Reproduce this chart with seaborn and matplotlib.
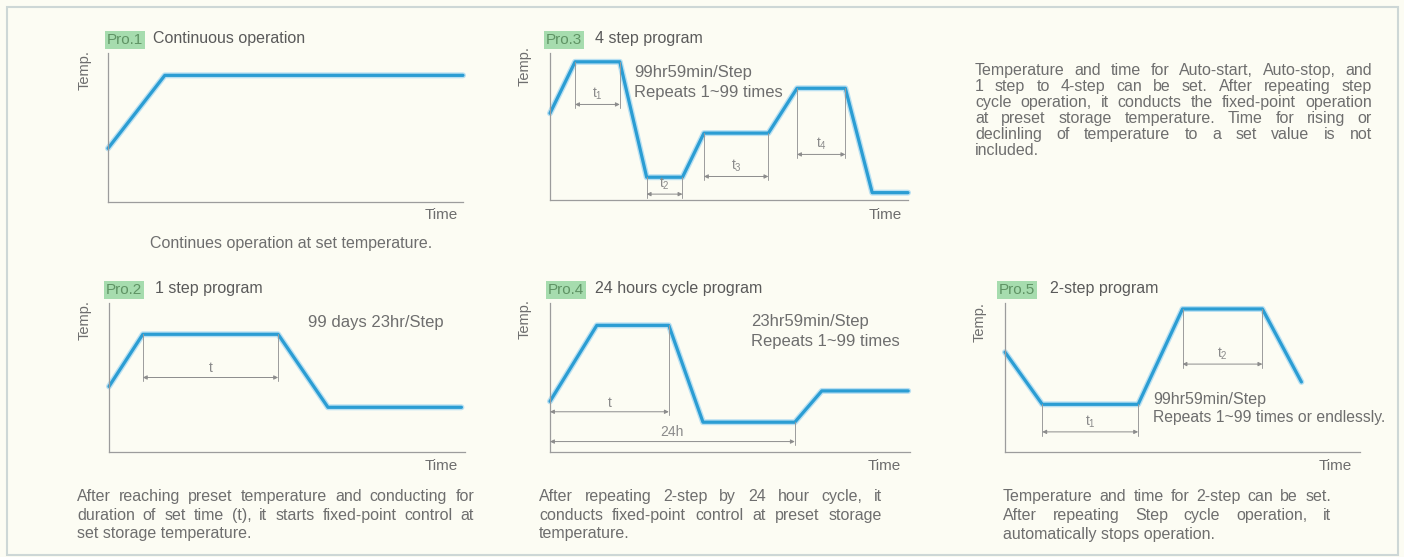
import matplotlib
matplotlib.use('Agg')
import matplotlib.pyplot as plt
import matplotlib.patheffects as pe
from matplotlib.patches import Rectangle
import numpy as np
import seaborn as sns


sns.set_theme(style='white')
plt.rcParams['font.family'] = ['Liberation Sans', 'DejaVu Sans']

W, H = 1404, 557

# Profiles: time (0-100) vs temperature (0-100)
p1_time = [0, 16, 100]
p1_temp = [36, 85, 85]

p2_time = [0, 9.5, 47.5, 61.5, 99]
p2_temp = [44, 79, 79, 30, 30]

p3_time = [0, 7, 19.5, 27, 37, 43, 61, 69, 82.5, 90, 100]
p3_temp = [59, 94, 94, 15.5, 15.5, 45.5, 45.5, 76, 76, 5, 5]

p4_time = [0, 13, 33, 42.5, 68, 75.5, 99.5]
p4_temp = [34, 85, 85, 20, 20, 41, 41]

p5_time = [0, 10.5, 37.5, 50, 72.5, 83.5]
p5_temp = [67, 32, 32, 96, 96, 47]

# Dimension marks: start, end, level, label
p2_dims = ([9.5], [47.5], [50], ['t'])
p3_dims = ([7, 27, 43, 69], [19.5, 37, 61, 82.5], [65, 4, 16, 31],
           [r'$\mathregular{t_1}$', r'$\mathregular{t_2}$', r'$\mathregular{t_3}$', r'$\mathregular{t_4}$'])
p4_dims = ([0, 0], [33, 68], [27, 7], ['t', '24h'])
p5_dims = ([10.5, 50], [37.5, 72.5], [13.5, 59], [r'$\mathregular{t_1}$', r'$\mathregular{t_2}$'])

titles = ['Continuous operation', '1 step program', '4 step program',
          '24 hours cycle program', '2-step program']

BLUE = '#2b9dd3'
GREY = '#6e6e6e'
AXC = '#9c9c9c'

fig = plt.figure(figsize=(W / 100, H / 100), dpi=100)
fig.patch.set_facecolor('#fcfcf3')
fig.patches.append(Rectangle((7 / W, 2 / H), 1391 / W, 548 / H, transform=fig.transFigure,
                             fill=False, ec='#cdd7d6', lw=1.5))


def fx(x):
    return x / W


def fy(y):
    return 1 - y / H


def txt(x, y, s, **kw):
    # y is the middle of the lowercase letters; draw on the baseline
    kw.setdefault('color', GREY)
    kw.setdefault('fontsize', 12)
    kw.setdefault('va', 'baseline')
    if kw['va'] == 'baseline':
        y = y + 0.3 * kw['fontsize']
    return fig.text(fx(x), fy(y), s, **kw)


def panel(box, time, temp, dims=None):
    x0, y0, x1, y1 = box
    ax = fig.add_axes([fx(x0), fy(y1), (x1 - x0) / W, (y1 - y0) / H])
    ax.set_facecolor('none')
    sns.lineplot(x=time, y=temp, ax=ax, color=BLUE, linewidth=2.3,
                 estimator=None, sort=False, clip_on=False,
                 path_effects=[pe.Stroke(linewidth=4.3, foreground='#b9e0f2'), pe.Normal()])
    ax.set_xlim(0, 100)
    ax.set_ylim(0, 100)
    ax.set_xticks([])
    ax.set_yticks([])
    ax.set_xlabel('')
    ax.set_ylabel('')
    for s in ['top', 'right']:
        ax.spines[s].set_visible(False)
    for s in ['left', 'bottom']:
        ax.spines[s].set_color(AXC)
        ax.spines[s].set_linewidth(0.9)
    if dims is not None:
        for a, b, lev, lab in zip(*dims):
            for xx in (a, b):
                top = np.interp(xx, time, temp)
                ax.plot([xx, xx], [top, max(lev - 2.5, 0)], color=AXC, lw=0.7, clip_on=False)
            ax.annotate('', xy=(b, lev), xytext=(a, lev),
                        arrowprops=dict(arrowstyle='<|-|>', color='#8c8c8c', lw=0.7,
                                        mutation_scale=6, shrinkA=0, shrinkB=0))
            ax.text((a + b) / 2, lev + 1.5, lab, ha='center', va='bottom',
                    fontsize=10, color='#8a8a8a')
    return ax


def header(x_box, x_text, y, num, title):
    fig.text(fx(x_box), fy(y), f'Pro.{num}', fontsize=11, color='#5f9364', va='center',
             bbox=dict(boxstyle='square,pad=0.12', fc='#a6dcae', ec='none'))
    txt(x_text, y, title, fontsize=11.5, color='#5a5a5a')


def justify(lines, x0, x1, ys, fs=11.5, last_left=True):
    r = fig.canvas.get_renderer()
    for i, (line, y) in enumerate(zip(lines, ys)):
        words = line.split()
        if (last_left and i == len(lines) - 1) or len(words) == 1:
            txt(x0, y, line, fontsize=fs)
            continue
        ts = [txt(0, y, w, fontsize=fs) for w in words]
        ws = [t.get_window_extent(r).width for t in ts]
        gap = (x1 - x0 - sum(ws)) / (len(words) - 1)
        x = x0
        for t, w in zip(ts, ws):
            t.set_x(fx(x))
            x += w + gap


# panels
panel((108, 53, 463, 202), p1_time, p1_temp)
panel((109, 303, 465, 452), p2_time, p2_temp, p2_dims)
panel((550, 53, 908, 200), p3_time, p3_temp, p3_dims)
panel((550, 303, 910, 452), p4_time, p4_temp, p4_dims)
panel((1005, 303, 1360, 452), p5_time, p5_temp, p5_dims)

header(107, 153, 40, 1, titles[0])
header(106, 155, 290, 2, titles[1])
header(546, 595, 40, 3, titles[2])
header(548, 595, 290, 4, titles[3])
header(999, 1050, 290, 5, titles[4])

for x, y in [(85, 70), (85, 320), (525, 66), (525, 319), (980, 322)]:
    txt(x, y, 'Temp.', rotation=90, ha='center', va='center', fontsize=10.5)
for x, y in [(458, 216), (458, 467), (902, 216), (901, 467), (1352, 467)]:
    txt(x, y, 'Time', ha='right', fontsize=11)

# side notes
txt(634, 73, '99hr59min/Step', fontsize=12)
txt(634, 93, 'Repeats 1~99 times', fontsize=12)
txt(308, 323, '99 days 23hr/Step', fontsize=12)
txt(751, 322, '23hr59min/Step', fontsize=12)
txt(751, 342, 'Repeats 1~99 times', fontsize=12)
txt(1153, 401, '99hr59min/Step', fontsize=11.5)
txt(1153, 419, 'Repeats 1~99 times or endlessly.', fontsize=11.3)

# descriptions
txt(150, 245, 'Continues operation at set temperature.', fontsize=11.5)
justify(['Temperature and time for Auto-start, Auto-stop, and',
         '1 step to 4-step can be set. After repeating step',
         'cycle operation, it conducts the fixed-point operation',
         'at preset storage temperature. Time for rising or',
         'declinling of temperature to a set value is not',
         'included.'], 975, 1372, [72, 88, 104, 120, 136, 152])
justify(['After reaching preset temperature and conducting for',
         'duration of set time (t), it starts fixed-point control at',
         'set storage temperature.'], 77, 474, [498, 517, 535])
justify(['After repeating 2-step by 24 hour cycle, it',
         'conducts fixed-point control at preset storage',
         'temperature.'], 539, 882, [498, 517, 535])
justify(['Temperature and time for 2-step can be set.',
         'After repeating Step cycle operation, it',
         'automatically stops operation.'], 1003, 1331, [498, 517, 536])

fig.savefig('out.png', dpi=100, facecolor=fig.get_facecolor())
